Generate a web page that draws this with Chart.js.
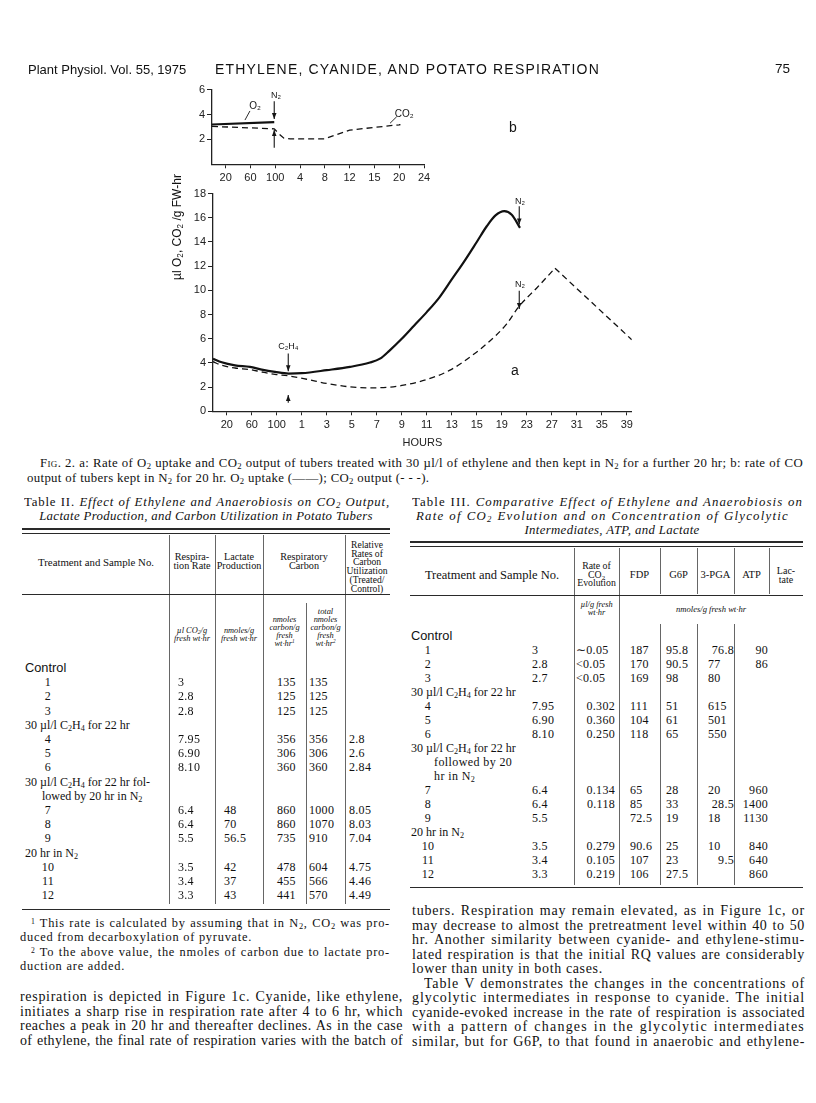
<!DOCTYPE html>
<html><head><meta charset="utf-8">
<script src="https://cdn.jsdelivr.net/npm/chart.js@4.4.1/dist/chart.umd.min.js"></script>
<style>
html,body{margin:0;padding:0;background:#fff}
#page{position:relative;width:816px;height:1103px;overflow:hidden;font-family:"Liberation Serif","Times New Roman",serif;color:#111}
.t{position:absolute;white-space:nowrap;line-height:1}
.j{position:absolute;white-space:normal;text-align:justify;text-align-last:justify;overflow:hidden}
.r{position:absolute;background:#2a2a2a}
.rv{position:absolute;background:#666}
sub{font-size:0.68em;vertical-align:-0.25em;line-height:0}
sup{font-size:0.62em;vertical-align:0.45em;line-height:0}
.sans{font-family:"Liberation Sans",Arial,sans-serif}
</style></head>
<body><div id="page">
<canvas id="cb" width="500" height="114" style="position:absolute;left:160px;top:75px;width:500px;height:114px"></canvas>
<canvas id="ca" width="500" height="270" style="position:absolute;left:160px;top:185px;width:500px;height:270px"></canvas>
</div>
<script>
// ---------------- chart data ----------------
const tickLabelsB = ["20","60","100","4","8","12","15","20","24"];
const tickLabelsA = ["20","60","100","1","3","5","7","9","11","13","15","19","23","27","31","35","39"];
const yTicksB = [2,4,6];
const yTicksA = [0,2,4,6,8,10,12,14,16,18];
// panel b (x = position along the tick index)
const o2B_x  = [-0.55, 1.96];
const o2B_y  = [3.2, 3.4];
const co2B_x = [-0.55, 1.96, 2.15, 2.35, 2.6, 4.0, 5.0, 6.0, 7.0, 7.05];
const co2B_y = [3.05, 2.85, 2.45, 2.1, 2.05, 2.05, 2.75, 2.97, 3.18, 3.2];
// panel a
const o2A_x  = [-0.55,-0.2,0.33,0.93,1.4,1.93,2.47,3.0,4.0,4.93,5.73,6.13,6.5,7.0,7.5,8.0,8.5,9.0,9.5,10.0,10.4,10.75,11.1,11.4,11.73];
const o2A_y  = [4.35,4.05,3.8,3.67,3.45,3.26,3.12,3.15,3.4,3.67,4.03,4.35,5.0,6.0,7.1,8.2,9.4,10.9,12.4,14.0,15.3,16.2,16.55,16.25,15.17];
const co2A_x = [-0.55,-0.2,0.33,0.93,1.4,1.93,2.47,3.2,4.0,4.93,5.73,6.53,7.07,8.0,8.93,9.73,10.4,11.2,11.66,12.4,13.13];
const co2A_y = [4.1,3.8,3.58,3.45,3.25,3.05,2.93,2.65,2.3,2.02,1.94,2.0,2.16,2.63,3.4,4.49,5.59,7.23,8.6,10.2,11.83];
const co2A2_x = [13.13, 16.2];
const co2A2_y = [11.83, 5.92];

// ---------------- table data ----------------
const t2Resp  = ["3","2.8","2.8","7.95","6.90","8.10","6.4","6.4","5.5","3.5","3.4","3.3"];
const t2Lact  = ["","","","","","","48","70","56.5","42","37","43"];
const t2Carb  = ["135","125","125","356","306","360","860","860","735","478","455","441"];
const t2Total = ["135","125","125","356","306","360","1000","1070","910","604","566","570"];
const t2Rel   = ["","","","2.8","2.6","2.84","8.05","8.03","7.04","4.75","4.46","4.49"];
const t3Rate  = ["3","2.8","2.7","7.95","6.90","8.10","6.4","6.4","5.5","3.5","3.4","3.3"];
const t3FDP   = ["∼0.05","<0.05","<0.05","0.302","0.360","0.250","0.134","0.118","","0.279","0.105","0.219"];
const t3G6P   = ["187","170","169","111","104","118","65","85","72.5","90.6","107","106"];
const t3PGA   = ["95.8","90.5","98","51","61","65","28","33","19","25","23","27.5"];
const t3ATP   = ["76.8","77","80","615","501","550","20","28.5","18","10","9.5",""];
const t3Lact  = ["90","86","","","","","960","1400","1130","840","640","860"];

// ---------------- helpers ----------------
const page = document.getElementById('page');
function txt(html, x, y, o = {}) {
  const d = document.createElement('div');
  d.className = 't' + (o.sans ? ' sans' : '');
  d.innerHTML = html;
  d.style.left = x + 'px'; d.style.top = y + 'px';
  d.style.fontSize = (o.size || 11.5) + 'px';
  if (o.italic) d.style.fontStyle = 'italic';
  if (o.bold) d.style.fontWeight = 'bold';
  if (o.ls != null) d.style.letterSpacing = o.ls + 'px';
  const ax = o.align === 'center' ? '-50%' : o.align === 'right' ? '-100%' : '0';
  d.style.transform = 'translate(' + ax + ',-50%)' + (o.rot ? ' rotate(' + o.rot + 'deg)' : '');
  page.appendChild(d); return d;
}
function natural(html, size, italic, sans) {
  const s = document.createElement('span');
  s.style.cssText = 'position:absolute;visibility:hidden;white-space:nowrap;letter-spacing:0;font-size:' + size + 'px';
  if (italic) s.style.fontStyle = 'italic';
  if (sans) s.className = 'sans';
  s.innerHTML = html; page.appendChild(s);
  const w = s.getBoundingClientRect().width, n = s.textContent.length;
  page.removeChild(s);
  return {w, n};
}
function jline(html, x1, x2, y, o = {}) {
  const d = document.createElement('div');
  d.className = 'j' + (o.sans ? ' sans' : '');
  d.innerHTML = html;
  const lh = o.lh || 16, size = o.size || 13, W = x2 - x1;
  d.style.left = x1 + 'px'; d.style.width = W + 'px';
  d.style.top = (y - lh / 2) + 'px'; d.style.height = lh + 'px'; d.style.lineHeight = lh + 'px';
  d.style.fontSize = size + 'px';
  if (o.italic) d.style.fontStyle = 'italic';
  let ls = o.ls != null ? o.ls : 0;
  if (o.fill) {
    const m = natural(html, size, o.italic, o.sans);
    ls = Math.max(-0.8, Math.min(1.6, (W * o.fill - m.w) / m.n));
  }
  d.style.letterSpacing = ls + 'px';
  if (o.noj) { d.style.textAlignLast = 'left'; d.style.textAlign = 'left'; }
  page.appendChild(d);
  return ls;
}
function hr(x1, x2, y, w = 1) { const d = document.createElement('div'); d.className = 'r'; d.style.left = x1 + 'px'; d.style.top = (y - w / 2) + 'px'; d.style.width = (x2 - x1) + 'px'; d.style.height = w + 'px'; page.appendChild(d); }
function vr(x, y1, y2, w = 0.8) { const d = document.createElement('div'); d.className = 'rv'; d.style.left = (x - w / 2) + 'px'; d.style.top = y1 + 'px'; d.style.width = w + 'px'; d.style.height = (y2 - y1) + 'px'; page.appendChild(d); }

// ---------------- page header ----------------
txt('Plant Physiol. Vol. 55, 1975', 28, 69, {size: 13, sans: true});
jline('ETHYLENE, CYANIDE, AND POTATO RESPIRATION', 215, 600, 69, {size: 14, sans: true, fill: 1.0, lh: 17});
txt('75', 790, 69, {size: 13.5, sans: true, align: 'right'});

// y-axis title shared by both panels
txt('µl O<sub>2</sub>, CO<sub>2</sub> /g FW-hr', 177, 227, {size: 12, sans: true, align: 'center', rot: -90});

// ---------------- charts ----------------
const pts = (xs, ys) => xs.map((x, i) => ({x, y: ys[i]}));
const FONT = '"Liberation Sans","DejaVu Sans",Arial,sans-serif';
const annotPlugin = {
  id: 'annot',
  afterDatasetsDraw(chart, args, opts) {
    const {ctx} = chart; const X = chart.scales.x, Y = chart.scales.y;
    ctx.save(); ctx.fillStyle = '#151515'; ctx.strokeStyle = '#151515';
    (opts.texts || []).forEach(t => {
      ctx.font = (t.size || 9) + 'px ' + FONT;
      ctx.textAlign = 'center'; ctx.textBaseline = 'middle';
      ctx.fillText(t.t, X.getPixelForValue(t.x), Y.getPixelForValue(t.y));
    });
    (opts.arrows || []).forEach(a => {
      const px = X.getPixelForValue(a.x), p1 = Y.getPixelForValue(a.y1), p2 = Y.getPixelForValue(a.y2);
      ctx.lineWidth = 1.1; ctx.beginPath(); ctx.moveTo(px, p1); ctx.lineTo(px, p2); ctx.stroke();
      const dir = Math.sign(p2 - p1);
      ctx.beginPath(); ctx.moveTo(px, p2); ctx.lineTo(px - 2.3, p2 - dir * 6); ctx.lineTo(px + 2.3, p2 - dir * 6); ctx.closePath(); ctx.fill();
    });
    (opts.leaders || []).forEach(l => {
      ctx.lineWidth = 0.9; ctx.beginPath();
      ctx.moveTo(X.getPixelForValue(l.x1), Y.getPixelForValue(l.y1));
      ctx.lineTo(X.getPixelForValue(l.x2), Y.getPixelForValue(l.y2)); ctx.stroke();
    });
    ctx.restore();
  }
};
function xScale(labels, min, max, h, title) {
  return {
    type: 'linear', min, max,
    afterBuildTicks: s => { s.ticks = labels.map((_, i) => ({value: i})); },
    afterFit: s => { s.height = h; },
    ticks: {autoSkip: false, maxRotation: 0, minRotation: 0, padding: 3, color: '#222',
      font: {family: FONT, size: 11}, callback: v => labels[Math.round(v)]},
    grid: {display: true, drawOnChartArea: false, drawTicks: true, tickLength: 4, color: '#222', lineWidth: 1},
    border: {display: true, color: '#222', width: 1.3},
    title: title ? {display: true, text: title, color: '#222', font: {family: FONT, size: 11}, padding: {top: 0, bottom: 5}} : {display: false}
  };
}
function yScale(ticks, min, max) {
  return {
    type: 'linear', min, max,
    afterBuildTicks: s => { s.ticks = ticks.map(v => ({value: v})); },
    afterFit: s => { s.width = 40; },
    ticks: {padding: 2, color: '#222', font: {family: FONT, size: 11}, callback: v => String(v)},
    grid: {display: true, drawOnChartArea: false, drawTicks: true, tickLength: 5, color: '#222', lineWidth: 1},
    border: {display: true, color: '#222', width: 1.3}
  };
}
const common = {responsive: false, animation: false, events: [], devicePixelRatio: 1};

new Chart(document.getElementById('cb'), {
  type: 'line',
  data: {datasets: [
    {data: pts(o2B_x, o2B_y), borderColor: '#111', borderWidth: 2.2, pointRadius: 0, tension: 0},
    {data: pts(co2B_x, co2B_y), borderColor: '#111', borderWidth: 1.3, borderDash: [6, 4], pointRadius: 0, tension: 0}
  ]},
  options: Object.assign({}, common, {
    layout: {padding: {left: 12, right: 236, top: 14.7, bottom: 0}},
    scales: {x: xScale(tickLabelsB, -0.55, 8, 24.7), y: yScale(yTicksB, 0, 6)},
    plugins: {legend: {display: false}, tooltip: {enabled: false},
      annot: {
        texts: [{x: 2.03, y: 5.52, t: 'N₂'}, {x: 1.19, y: 4.63, t: 'O₂', size: 10}, {x: 7.2, y: 4.02, t: 'CO₂', size: 10}, {x: 11.59, y: 2.92, t: 'b', size: 14}],
        arrows: [{x: 1.96, y1: 5.08, y2: 3.64}, {x: 1.96, y1: 1.34, y2: 2.76}],
        leaders: [{x1: 0.98, y1: 4.29, x2: 0.78, y2: 3.56}, {x1: 6.9, y1: 3.83, x2: 6.63, y2: 3.3}]
      }}
  }),
  plugins: [annotPlugin]
});

new Chart(document.getElementById('ca'), {
  type: 'line',
  data: {datasets: [
    {data: pts(o2A_x, o2A_y), borderColor: '#111', borderWidth: 2.2, pointRadius: 0, cubicInterpolationMode: 'monotone'},
    {data: pts(co2A_x, co2A_y), borderColor: '#111', borderWidth: 1.3, borderDash: [6, 4], pointRadius: 0, cubicInterpolationMode: 'monotone'},
    {data: pts(co2A2_x, co2A2_y), borderColor: '#111', borderWidth: 1.3, borderDash: [6, 4], pointRadius: 0, tension: 0}
  ]},
  options: Object.assign({}, common, {
    layout: {padding: {left: 13, right: 28.25, top: 7.3, bottom: 0}},
    scales: {x: xScale(tickLabelsA, -0.55, 16.2, 43.7, 'HOURS'), y: yScale(yTicksA, 0, 18)},
    plugins: {legend: {display: false}, tooltip: {enabled: false},
      annot: {
        texts: [{x: 2.46, y: 5.39, t: 'C₂H₄'}, {x: 11.73, y: 17.36, t: 'N₂'}, {x: 11.73, y: 10.52, t: 'N₂'}, {x: 11.53, y: 3.31, t: 'a', size: 14}],
        arrows: [{x: 2.46, y1: 4.77, y2: 3.31}, {x: 2.46, y1: 0.71, y2: 1.34}, {x: 11.7, y1: 16.95, y2: 15.45}, {x: 11.7, y1: 9.97, y2: 8.46}]
      }}
  }),
  plugins: [annotPlugin]
});

// ---------------- caption ----------------
const capLS = jline('<span style="font-variant:small-caps">Fig.</span> 2. a: Rate of O<sub>2</sub> uptake and CO<sub>2</sub> output of tubers treated with 30 µl/l of ethylene and then kept in N<sub>2</sub> for a further 20 hr; b: rate of CO', 40, 803, 463, {size: 12.8, fill: 0.985});
jline('output of tubers kept in N<sub>2</sub> for 20 hr. O<sub>2</sub> uptake (——); CO<sub>2</sub> output (- - -).', 27, 640, 478, {size: 12.8, ls: capLS, noj: true});

// ---------------- Table II ----------------
(function () {
  const L = 22, R = 390;
  jline('Table II. <i>Effect of Ethylene and Anaerobiosis on CO<sub>2</sub> Output,</i>', L + 2, R, 502, {size: 12.8, fill: 0.99});
  txt('<i>Lactate Production, and Carbon Utilization in Potato Tubers</i>', (L + R) / 2, 516, {size: 12.8, align: 'center', ls: 0.35});
  hr(L, R, 529, 1.6); hr(L, R, 533, 0.8);
  [169, 215, 263, 345].forEach(x => vr(x, 535, 904));
  vr(306, 603, 904);
  hr(L, R, 594, 0.8);
  txt('Treatment and Sample No.', 96, 562, {size: 10.8, align: 'center'});
  ['Respira-', 'tion Rate'].forEach((s, i) => txt(s, 192, 557 + i * 9, {size: 10.2, align: 'center'}));
  ['Lactate', 'Production'].forEach((s, i) => txt(s, 239, 557 + i * 9, {size: 10.2, align: 'center'}));
  ['Respiratory', 'Carbon'].forEach((s, i) => txt(s, 304, 557 + i * 9, {size: 10.2, align: 'center'}));
  ['Relative', 'Rates of', 'Carbon', 'Utilization', '(Treated/', 'Control)'].forEach((s, i) => txt(s, 367, 545 + i * 8.7, {size: 9.6, align: 'center'}));
  const us = {size: 8.4, italic: true, align: 'center'};
  ['µl CO<sub>2</sub>/g', 'fresh wt·hr'].forEach((s, i) => txt(s, 192, 631 + i * 8, us));
  ['nmoles/g', 'fresh wt·hr'].forEach((s, i) => txt(s, 239, 631 + i * 8, us));
  ['nmoles', 'carbon/g', 'fresh', 'wt·hr<sup>1</sup>'].forEach((s, i) => txt(s, 284.5, 620 + i * 8, us));
  ['total', 'nmoles', 'carbon/g', 'fresh', 'wt·hr<sup>2</sup>'].forEach((s, i) => txt(s, 325.5, 612 + i * 8, us));
  const y0 = 668, st = 14.2;
  const Y = k => y0 + k * st;
  txt('Control', L + 3, Y(0), {size: 12.8, sans: true});
  txt('30 µl/l C<sub>2</sub>H<sub>4</sub> for 22 hr', L + 3, Y(4), {size: 12});
  txt('30 µl/l C<sub>2</sub>H<sub>4</sub> for 22 hr fol-', L + 3, Y(8), {size: 12});
  txt('lowed by 20 hr in N<sub>2</sub>', L + 20, Y(9), {size: 12});
  txt('20 hr in N<sub>2</sub>', L + 3, Y(13), {size: 12});
  const rowK = [1, 2, 3, 5, 6, 7, 10, 11, 12, 14, 15, 16];
  rowK.forEach((k, i) => {
    const y = Y(k), o = {size: 12, ls: 0.3};
    txt(String(i + 1), 48, y, Object.assign({align: 'center'}, o));
    txt(t2Resp[i], 178, y, o);
    txt(t2Lact[i], 224, y, o);
    txt(t2Carb[i], 277, y, o);
    txt(t2Total[i], 309, y, o);
    txt(t2Rel[i], 349, y, o);
  });
  hr(L, R, 909, 1);
  // footnotes
  const f1 = jline('<sup>1</sup> This rate is calculated by assuming that in N<sub>2</sub>, CO<sub>2</sub> was pro-', 31, R, 923, {size: 12.4, fill: 0.98});
  jline('duced from decarboxylation of pyruvate.', 20, R, 937, {size: 12.4, ls: f1, noj: true});
  const f2 = jline('<sup>2</sup> To the above value, the nmoles of carbon due to lactate pro-', 31, R, 951.5, {size: 12.4, fill: 0.98});
  jline('duction are added.', 20, R, 965.5, {size: 12.4, ls: f2, noj: true});
})();

// ---------------- Table III ----------------
(function () {
  const L = 410, R = 803;
  jline('Table III. <i>Comparative Effect of Ethylene and Anaerobiosis on</i>', L + 2, R, 502, {size: 12.8, fill: 0.99});
  jline('<i>Rate of CO<sub>2</sub> Evolution and on Concentration of Glycolytic</i>', L + 6, R - 14, 516, {size: 12.8, fill: 0.99});
  txt('<i>Intermediates, ATP, and Lactate</i>', 612, 530, {size: 12.8, align: 'center', ls: 0.35});
  hr(L, R, 542, 1.6); hr(L, R, 546, 0.8);
  [574, 619].forEach(x => vr(x, 548, 885));
  [660, 697, 734].forEach(x => { vr(x, 548, 594); vr(x, 624, 885); });
  vr(769, 548, 594);
  hr(L, R, 595, 0.8);
  txt('Treatment and Sample No.', 492, 575, {size: 12.5, align: 'center'});
  ['Rate of', 'CO<sub>2</sub>', 'Evolution'].forEach((s, i) => txt(s, 596.5, 566 + i * 8.5, {size: 9.8, align: 'center'}));
  txt('FDP', 639.5, 575, {size: 10.5, align: 'center'});
  txt('G6P', 678.5, 575, {size: 10.5, align: 'center'});
  txt('3-PGA', 715.5, 575, {size: 10.5, align: 'center'});
  txt('ATP', 751.5, 575, {size: 10.5, align: 'center'});
  ['Lac-', 'tate'].forEach((s, i) => txt(s, 786, 571 + i * 9, {size: 10, align: 'center'}));
  txt('µl/g fresh', 596.5, 605, {size: 8.4, italic: true, align: 'center'});
  txt('wt·hr', 596.5, 612.5, {size: 8.4, italic: true, align: 'center'});
  txt('nmoles/g fresh wt·hr', 711, 609, {size: 8.6, italic: true, align: 'center'});
  const y0 = 636, st = 14.0;
  const Y = k => y0 + k * st;
  txt('Control', L + 1, Y(0), {size: 12.8, sans: true});
  txt('30 µl/l C<sub>2</sub>H<sub>4</sub> for 22 hr', L + 1, Y(4), {size: 12});
  txt('30 µl/l C<sub>2</sub>H<sub>4</sub> for 22 hr', L + 1, Y(8), {size: 12});
  txt('followed by 20', L + 24, Y(9), {size: 12, ls: 0.4});
  txt('hr in N<sub>2</sub>', L + 24, Y(10), {size: 12, ls: 0.4});
  txt('20 hr in N<sub>2</sub>', L + 1, Y(14), {size: 12});
  const rowK = [1, 2, 3, 5, 6, 7, 11, 12, 13, 15, 16, 17];
  rowK.forEach((k, i) => {
    const y = Y(k), o = {size: 12, ls: 0.3};
    txt(String(i + 1), 428, y, Object.assign({align: 'center'}, o));
    txt(t3Rate[i], 532, y, o);
    const f = t3FDP[i];
    if (/^[∼<]/.test(f)) txt(f, 576, y, o); else txt(f, 615, y, Object.assign({align: 'right'}, o));
    txt(t3G6P[i], 630, y, o);
    txt(t3PGA[i], 666, y, o);
    const a = t3ATP[i];
    if (a.indexOf('.') >= 0) txt(a, 734, y, Object.assign({align: 'right'}, o)); else txt(a, 708, y, o);
    txt(t3Lact[i], 768, y, Object.assign({align: 'right'}, o));
  });
  hr(L, R, 887, 1);
})();

// ---------------- body text ----------------
const leftLines = [
  'respiration is depicted in Figure 1c. Cyanide, like ethylene,',
  'initiates a sharp rise in respiration rate after 4 to 6 hr, which',
  'reaches a peak in 20 hr and thereafter declines. As in the case',
  'of ethylene, the final rate of respiration varies with the batch of'
];
leftLines.forEach((s, i) => jline(s, 20, 403, 997 + i * 14.5, {size: 14, fill: 0.975}));
const rightLines = [
  'tubers. Respiration may remain elevated, as in Figure 1c, or',
  'may decrease to almost the pretreatment level within 40 to 50',
  'hr. Another similarity between cyanide- and ethylene-stimu-',
  'lated respiration is that the initial RQ values are considerably',
  'lower than unity in both cases.',
  'Table V demonstrates the changes in the concentrations of',
  'glycolytic intermediates in response to cyanide. The initial',
  'cyanide-evoked increase in the rate of respiration is associated',
  'with a pattern of changes in the glycolytic intermediates',
  'similar, but for G6P, to that found in anaerobic and ethylene-'
];
let lastLS = 0;
rightLines.forEach((s, i) => {
  const x1 = i === 5 ? 424 : 412;
  if (i === 4) jline(s, x1, 805, 911 + i * 14.5, {size: 14, ls: lastLS, noj: true});
  else lastLS = jline(s, x1, 805, 911 + i * 14.5, {size: 14, fill: 0.975});
});
</script>
</body></html>
